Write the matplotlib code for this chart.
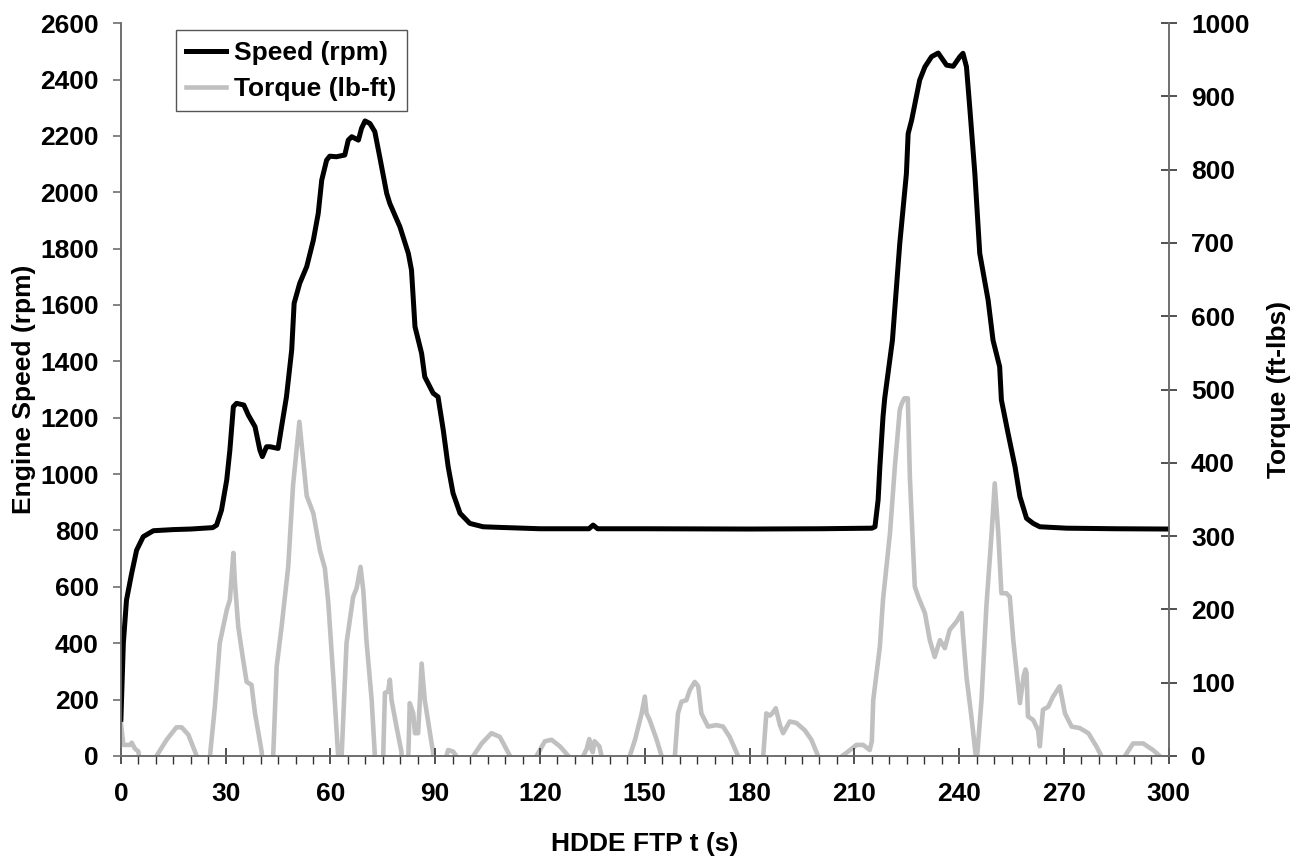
import matplotlib.pyplot as plt
from matplotlib.ticker import MultipleLocator

FONT = "Liberation Sans"
FS = 19
AXIS_GREY = "#6e6e6e"

# engine speed trace (rpm) vs time (s)
speed_t = [0, 0.7, 1.6, 3.1, 4.5, 6.4, 9.3, 15, 20, 26.3, 27.4, 28.8, 30.3,
           31.2, 32.2, 33.1, 35.2, 36.5, 38.4, 39.8, 40.5, 41.7, 42.7, 45.0,
           46.0, 47.4, 48.9, 49.6, 51.2, 53.2, 55.1, 56.5, 57.5, 58.9, 59.8,
           61.7, 64.1, 65.1, 66.1, 68.0, 68.9, 69.9, 71.3, 72.7, 74.1, 76.1,
           77.0, 79.9, 82.3, 83.2, 84.2, 86.1, 87.0, 89.4, 90.8, 92.3, 93.7,
           95.1, 97.1, 99.9, 103.7, 108, 120, 134, 135.2, 136.5, 150, 180,
           200, 215.0, 215.9, 216.8, 217.3, 218.2, 218.7, 220.9, 223.0,
           224.9, 225.4, 226.4, 228.7, 230.2, 232.1, 234.0, 236.4, 238.3,
           240.2, 241.1, 242.1, 243.1, 244.5, 245.9, 248.3, 249.7, 251.6,
           252.1, 254.0, 256.0, 257.4, 259.3, 261.2, 263.1, 270.8, 285, 300]
speed = [130, 400, 553, 649, 730, 778, 799, 803, 805, 810, 819, 872, 979,
         1085, 1239, 1251, 1245, 1209, 1168, 1085, 1062, 1097, 1097, 1091,
         1168, 1274, 1440, 1606, 1677, 1736, 1830, 1925, 2043, 2114, 2128,
         2126, 2132, 2185, 2197, 2185, 2227, 2253, 2244, 2215, 2126, 1996,
         1960, 1877, 1783, 1724, 1523, 1428, 1345, 1287, 1274, 1156, 1026,
         932, 861, 825, 813, 811, 806, 806, 819, 806, 806, 805,
         806, 808, 813, 908, 1026, 1203, 1270, 1475, 1818,
         2066, 2208, 2256, 2398, 2445, 2481, 2494, 2451, 2447,
         2481, 2493, 2445, 2291, 2066, 1783, 1617, 1475, 1381,
         1263, 1145, 1026, 920, 843, 825, 813, 808, 806, 805]

# torque trace (lb-ft) vs time (s); negative parts fall below the axis
torque_t = [0, 0.7, 2.6, 3.1, 4.0, 5.0, 6.5, 9.5, 10.2, 13.1, 15.9, 17.4,
            19.3, 21.7, 22.5, 25.0, 25.5, 26.9, 28.3, 30.3, 31.2, 32.2, 32.6,
            33.6, 35.0, 36.0, 37.4, 38.4, 40.3, 41.0, 43.0, 43.6, 44.6, 46.0,
            47.9, 49.3, 51.1, 53.2, 55.1, 57.0, 58.4, 59.4, 60.8, 62.2, 62.6,
            62.9, 63.2, 64.6, 66.5, 67.5, 68.6, 69.4, 70.3, 71.8, 72.7, 73.2,
            74.6, 75.1, 75.6, 76.5, 77.0, 77.5, 78.9, 80.3, 81.0, 81.8, 82.3,
            82.7, 83.7, 84.2, 85.1, 85.6, 86.1, 87.0, 88.5, 89.4, 90.0, 92.6,
            93.2, 93.7, 95.1, 96.0, 96.6, 100.3, 100.9, 103.3, 106.1, 108.5,
            111.4, 112.0, 118.4, 119.0, 121.4, 123.3, 125.7, 128.1, 128.7,
            131.8, 132.4, 133.4, 134.1, 134.6, 135.1, 135.6, 136.2, 137.0,
            137.6, 138.2, 145.1, 145.7, 147.2, 149.1, 150.0, 150.5, 151.4,
            153.4, 154.8, 155.4, 158.0, 158.6, 159.5, 160.5, 161.9, 162.9,
            164.3, 165.3, 166.2, 168.1, 170.5, 172.4, 174.3, 176.7, 177.3,
            183.3, 183.9, 184.8, 185.8, 186.5, 187.5, 188.7, 189.6, 191.5,
            193.4, 195.8, 197.7, 199.6, 200.2, 205.9, 206.5, 207.7, 210.6,
            212.5, 214.4, 215.0, 215.4, 217.3, 218.2, 220.2, 221.6, 223.0,
            223.5, 224.3, 225.3, 225.9, 227.3, 228.3, 230.2, 231.6, 233.0,
            234.5, 235.9, 237.3, 239.2, 240.7, 241.1, 242.1, 243.5, 245.0,
            246.4, 247.8, 249.3, 250.2, 251.2, 252.1, 253.5, 254.5, 255.5,
            257.4, 258.5, 259.0, 259.3, 259.7, 261.2, 262.6, 263.1, 264.0,
            265.5, 266.9, 268.8, 270.3, 272.2, 274.5, 277.0, 279.3, 280.7,
            281.3, 286.9, 287.5, 289.8, 292.7, 295.5, 297.4, 298.0, 300]
torque = [45, 15, 15, 18, 10, 6, -40, -40, 0, 22, 39, 39,
          29, 0, -40, -40, 0, 67, 154, 199, 213, 277, 240,
          176, 131, 101, 97, 58, 6, -40, -40, 0, 122, 176,
          258, 370, 456, 355, 331, 280, 256, 208, 108, 0, -40,
          -40, 0, 154, 217, 229, 258, 226, 158, 76, 0, -40,
          -40, 0, 86, 88, 104, 76, 40, 6, -40, -40, 0,
          72, 58, 31, 31, 76, 126, 76, 31, 4, -40, -40,
          0, 8, 6, 0, -40, -40, 0, 17, 31, 26,
          0, -40, -40, 0, 20, 22, 13, 0, -40,
          -40, 0, 10, 23, 10, 5, 20, 17, 13,
          0, -40, -40, 0, 22, 58, 81, 58, 49,
          22, 0, -40, -40, 0, 58, 74, 76, 90,
          101, 95, 58, 40, 42, 40, 26, 0, -40,
          -40, 0, 58, 55, 58, 65, 42, 31, 47,
          45, 35, 22, 0, -40, -40, 0, 4, 15,
          15, 8, 20, 76, 149, 213, 304, 395, 472,
          480, 488, 488, 380, 231, 217, 195, 158, 135,
          158, 147, 172, 183, 195, 167, 108, 54, -10,
          76, 204, 304, 372, 304, 222, 222, 217, 158,
          72, 110, 118, 113, 54, 49, 35, 13, 63,
          67, 81, 95, 58, 40, 38, 31, 13, 0,
          -40, -40, 0, 17, 17, 8, 0, -40, -40]

x_ticks = list(range(0, 301, 30))
speed_ticks = list(range(0, 2601, 200))
torque_ticks = list(range(0, 1001, 100))

plt.rcParams["font.family"] = FONT
plt.rcParams["font.weight"] = "bold"

fig = plt.figure(figsize=(13, 8.58), dpi=100)
ax = fig.add_axes([0.093, 0.119, 0.806, 0.854])
ax2 = ax.twinx()

ax.set_zorder(ax2.get_zorder() + 1)
ax.patch.set_visible(False)

line_speed, = ax.plot(speed_t, speed, color="black", lw=3.6,
                      solid_joinstyle="round", label="Speed (rpm)")
line_torque, = ax2.plot(torque_t, torque, color="#c0c0c0", lw=3.3,
                        solid_joinstyle="round", label="Torque (lb-ft)")

ax.set_xlim(0, 300)
ax.set_ylim(0, 2600)
ax2.set_ylim(0, 1000)

ax.set_xticks(x_ticks)
ax.xaxis.set_minor_locator(MultipleLocator(5))
ax.set_yticks(speed_ticks)
ax2.set_yticks(torque_ticks)

for a in (ax, ax2):
    a.spines["top"].set_visible(False)
    for side in ("left", "right", "bottom"):
        a.spines[side].set_color(AXIS_GREY)
        a.spines[side].set_linewidth(1.2)

ax.tick_params(axis="x", which="major", direction="inout", length=11,
               width=1.2, color="#333333", pad=13, labelsize=FS)
ax.tick_params(axis="x", which="minor", direction="out", length=6,
               width=1.0, color="#333333")
ax.tick_params(axis="y", direction="out", length=6, width=1.2,
               color=AXIS_GREY, pad=10, labelsize=FS)
ax2.tick_params(axis="y", direction="inout", length=12, width=1.2,
                color="#333333", pad=10, labelsize=FS)

ax.set_xlabel("HDDE FTP t (s)", fontsize=FS, fontweight="bold", labelpad=19)
ax.set_ylabel("Engine Speed (rpm)", fontsize=FS, fontweight="bold", labelpad=3)
ax2.set_ylabel("Torque (ft-lbs)", fontsize=FS, fontweight="bold",
               rotation=90, labelpad=13)

leg = ax.legend(handles=[line_speed, line_torque], loc="upper left",
                bbox_to_anchor=(0.0525, 0.99), borderaxespad=0,
                prop={"family": FONT, "weight": "bold", "size": FS},
                frameon=True, fancybox=False, framealpha=1,
                handlelength=1.5, handletextpad=0.3, labelspacing=0.45,
                borderpad=0.4)
leg.get_frame().set_edgecolor("#555555")
leg.get_frame().set_linewidth(1.0)

fig.savefig("out.png", dpi=100)
